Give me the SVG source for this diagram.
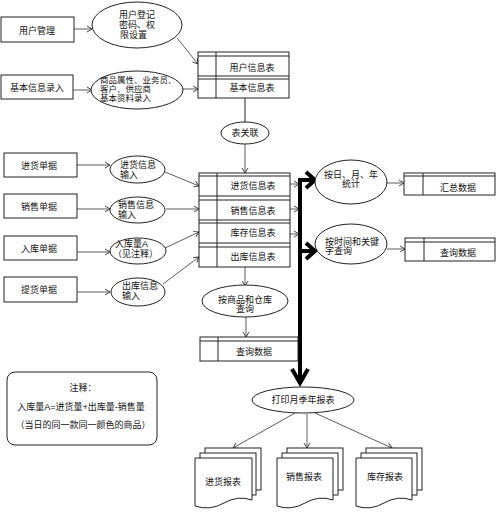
<svg xmlns="http://www.w3.org/2000/svg" width="500" height="514" viewBox="0 0 500 514">
<style>
text{font-family:"Liberation Sans","Noto Sans CJK SC",sans-serif;font-size:9px;fill:#111;}
.c{text-anchor:middle;}
.s{font-size:8.5px;}
.b{fill:#fff;stroke:#222;stroke-width:1;}
.l{fill:none;stroke:#222;stroke-width:1;}
.t{fill:none;stroke:#000;stroke-width:4;}
.a{fill:none;stroke:#333;stroke-width:0.8;marker-end:url(#ar);}
</style>
<defs>
<marker id="ar" markerUnits="userSpaceOnUse" markerWidth="8" markerHeight="8" refX="6" refY="4" orient="auto">
<path d="M1,1 L6,4 L1,7" fill="none" stroke="#333" stroke-width="0.9"/>
</marker>
</defs>
<rect width="500" height="514" fill="#fff"/>

<g id="connectors">
<line class="a" x1="74" y1="29" x2="92" y2="29"/>
<line class="a" x1="73" y1="90" x2="92" y2="90"/>
<line class="a" x1="177" y1="38" x2="198" y2="64"/>
<line class="a" x1="182" y1="89" x2="198" y2="89"/>
<line class="l" x1="245" y1="98" x2="245" y2="122"/>
<line class="a" x1="245" y1="144" x2="245" y2="173"/>
<line class="a" x1="77" y1="165" x2="110" y2="165"/>
<line class="a" x1="77" y1="209" x2="110" y2="209"/>
<line class="a" x1="77" y1="252" x2="110" y2="252"/>
<line class="a" x1="77" y1="292" x2="110" y2="292"/>
<line class="a" x1="165" y1="172" x2="199" y2="186"/>
<line class="a" x1="166" y1="209" x2="199" y2="209"/>
<line class="a" x1="165" y1="248" x2="199" y2="232"/>
<line class="a" x1="163" y1="284" x2="199" y2="257"/>
<line class="a" x1="290" y1="184" x2="299" y2="184"/>
<line class="a" x1="290" y1="209" x2="299" y2="209"/>
<line class="a" x1="290" y1="234" x2="299" y2="234"/>
<line class="a" x1="245" y1="267" x2="245" y2="286"/>
<line class="a" x1="246" y1="317" x2="246" y2="337"/>
<line class="a" x1="387" y1="183" x2="404" y2="183"/>
<line class="a" x1="387" y1="249" x2="405" y2="249"/>
<polyline class="t" points="314,180 300,180 300,382"/>
<line class="t" x1="300" y1="251" x2="314" y2="251"/>
<polyline class="t" points="306,172 315,180 306,188"/>
<polyline class="t" points="306,243 315,251 306,259"/>
<polyline class="t" points="292,369 300,383 308,369"/>
<line class="a" x1="295" y1="413" x2="233" y2="448"/>
<line class="a" x1="307" y1="414" x2="307" y2="448"/>
<line class="a" x1="315" y1="413" x2="392" y2="448"/>
</g>

<g id="n-user-mgmt"><rect class="b" x="1" y="17" width="73" height="25"/><text class="c" x="37" y="34">用户管理</text></g>
<g id="n-basic-input"><rect class="b" x="1" y="75" width="72" height="24"/><text class="c" x="37" y="91">基本信息录入</text></g>

<g id="n-user-reg"><ellipse class="b" cx="137" cy="25" rx="45" ry="23"/>
<text x="119" y="18">用户登记</text><text x="119" y="28">密码、权</text><text x="120" y="38">限设置</text></g>
<g id="n-basic-attr"><ellipse class="b" cx="137" cy="90" rx="46" ry="19"/>
<text class="s" x="100" y="83">商品属性、业务员、</text><text class="s" x="100" y="92">客户、供应商</text><text class="s" x="100" y="101">基本资料录入</text></g>

<g id="n-table1"><rect class="b" x="198" y="52" width="91" height="46"/>
<path class="l" d="M198,56 H289 M198,76 H289 M198,79 H289 M216,52 V98"/>
<text class="c" x="252" y="71">用户信息表</text><text class="c" x="252" y="91">基本信息表</text></g>

<g id="n-relate"><ellipse class="b" cx="245" cy="133" rx="24" ry="11"/><text class="c" x="245" y="136">表关联</text></g>

<g id="n-purchase-doc"><rect class="b" x="4" y="153" width="73" height="24"/><text class="c" x="39" y="169">进货单据</text></g>
<g id="n-sales-doc"><rect class="b" x="4" y="194" width="73" height="24"/><text class="c" x="39" y="210">销售单据</text></g>
<g id="n-in-doc"><rect class="b" x="4" y="236" width="73" height="24"/><text class="c" x="39" y="252">入库单据</text></g>
<g id="n-pick-doc"><rect class="b" x="4" y="277" width="73" height="25"/><text class="c" x="39" y="293">提货单据</text></g>

<g id="n-purchase-in"><ellipse class="b" cx="137.5" cy="169.5" rx="27.5" ry="13.5"/><text x="120" y="168">进货信息</text><text x="120" y="178">输入</text></g>
<g id="n-sales-in"><ellipse class="b" cx="137.5" cy="210" rx="27.5" ry="13"/><text x="118" y="208">销售信息</text><text x="118" y="218">输入</text></g>
<g id="n-in-qty"><ellipse class="b" cx="138" cy="251" rx="28" ry="13"/><text x="115" y="247">入库量A</text><text x="113" y="257">（见注释）</text></g>
<g id="n-out-in"><ellipse class="b" cx="138" cy="292" rx="27" ry="14"/><text x="122" y="289">出库信息</text><text x="122" y="299">输入</text></g>

<g id="n-table2"><rect class="b" x="199" y="173" width="91" height="94"/>
<path class="l" d="M199,176 H290 M199,196 H290 M199,200 H290 M199,220 H290 M199,223 H290 M199,243 H290 M199,247 H290 M217,173 V267"/>
<text class="c" x="253" y="189">进货信息表</text><text class="c" x="253" y="214">销售信息表</text><text class="c" x="253" y="236">库存信息表</text><text class="c" x="253" y="260">出库信息表</text></g>

<g id="n-query-goods"><ellipse class="b" cx="245" cy="301" rx="43" ry="16"/><text class="c" x="245" y="303">按商品和仓库</text><text class="c" x="245" y="312">查询</text></g>
<g id="n-query-data1"><rect class="b" x="200" y="337" width="98" height="24"/><path class="l" d="M200,341 H298 M218,337 V361"/><text class="c" x="254" y="355">查询数据</text></g>

<g id="n-stat"><ellipse class="b" cx="351" cy="182" rx="36" ry="22"/><text class="c" x="351" y="178">按日、月、年</text><text class="c" x="351" y="187">统计</text></g>
<g id="n-sum-data"><rect class="b" x="404" y="173" width="91" height="22"/><path class="l" d="M404,176 H495 M423,173 V195"/><text class="c" x="458" y="191">汇总数据</text></g>
<g id="n-query-kw"><ellipse class="b" cx="351" cy="244" rx="36" ry="20"/><text x="325" y="245">按时间和关键</text><text x="325" y="254">字查询</text></g>
<g id="n-query-data2"><rect class="b" x="405" y="238" width="90" height="23"/><path class="l" d="M405,242 H495 M424,238 V261"/><text class="c" x="458" y="256">查询数据</text></g>

<g id="n-print"><ellipse class="b" cx="303" cy="400" rx="51" ry="13"/><text class="c" x="303" y="403">打印月季年报表</text></g>

<g id="n-note"><rect class="b" x="7" y="372" width="150" height="73" rx="8"/>
<text class="c" x="83" y="391">注释：</text><text class="c" x="81" y="410">入库量A=进货量+出库量-销售量</text><text class="c" x="83" y="428">（当日的同一款同一颜色的商品）</text></g>

<g id="n-rep-purchase">
<rect class="b" x="205" y="448" width="56" height="42"/><rect class="b" x="200" y="453" width="56" height="42"/>
<path class="b" d="M195,458 H252 V500 Q238,495 224,503 Q210,511 195,506 Z"/>
<text class="c" x="223" y="485">进货报表</text></g>
<g id="n-rep-sales">
<rect class="b" x="287" y="448" width="56" height="42"/><rect class="b" x="282" y="453" width="56" height="42"/>
<path class="b" d="M277,458 H333 V500 Q319,495 305,503 Q291,511 277,506 Z"/>
<text class="c" x="304" y="480">销售报表</text></g>
<g id="n-rep-stock">
<rect class="b" x="366" y="448" width="56" height="42"/><rect class="b" x="361" y="453" width="56" height="42"/>
<path class="b" d="M356,458 H412 V500 Q398,495 384,503 Q370,511 356,506 Z"/>
<text class="c" x="385" y="480">库存报表</text></g>
</svg>
